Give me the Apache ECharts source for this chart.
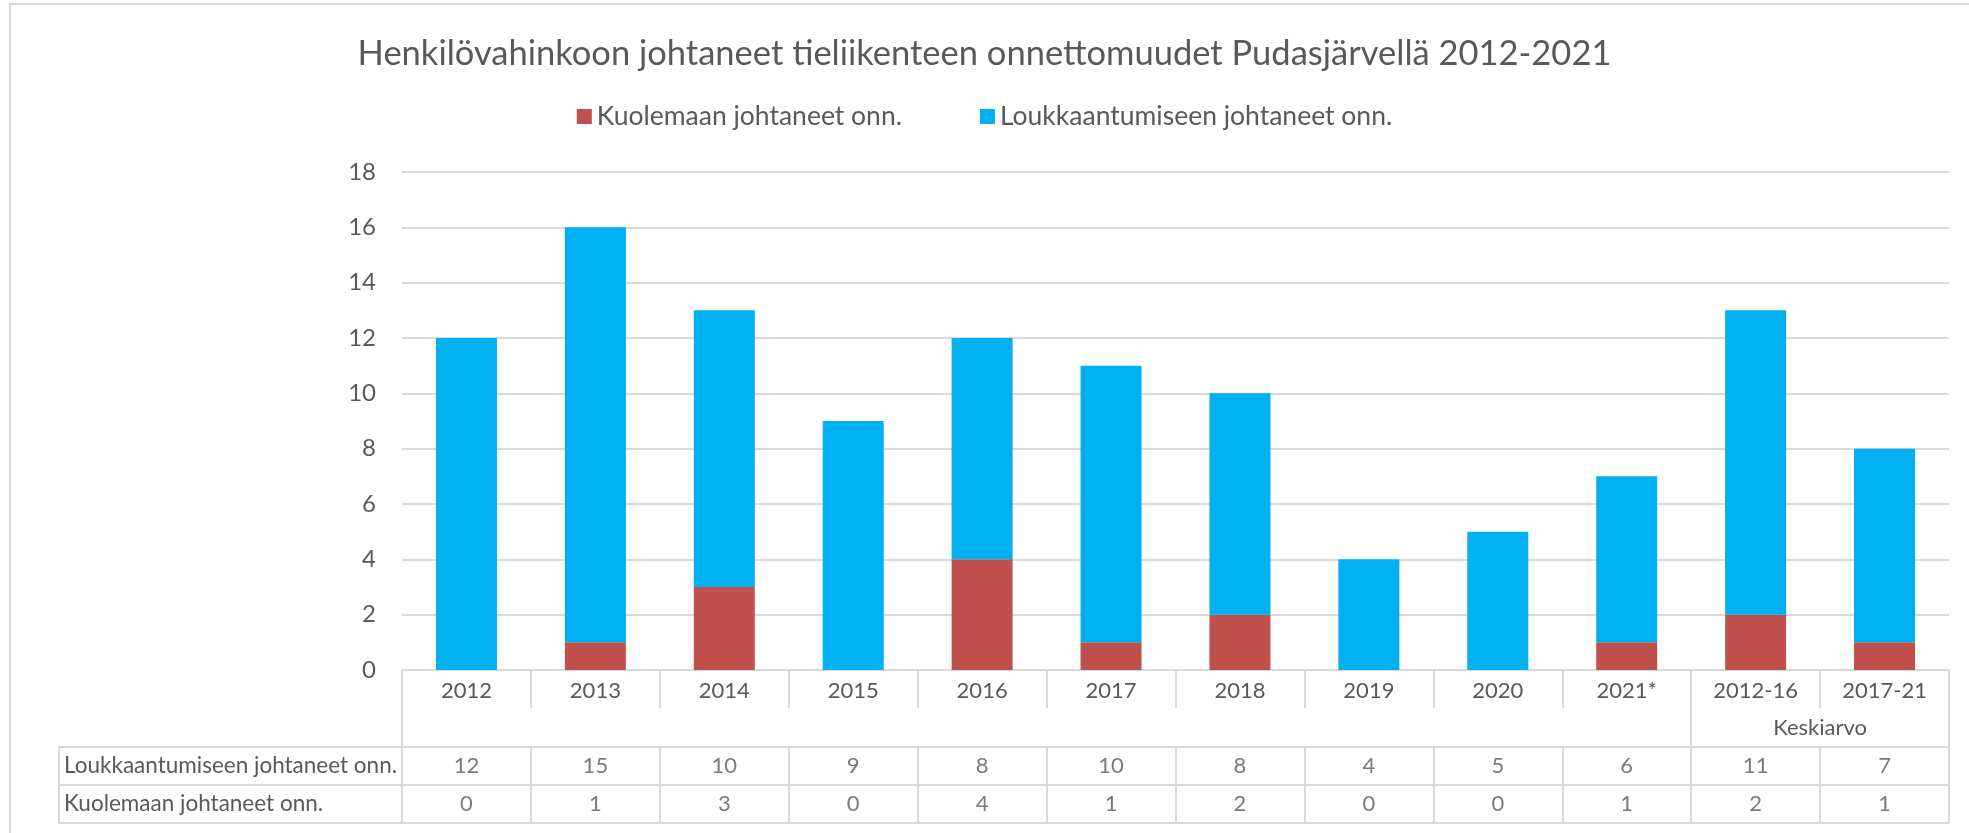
<!DOCTYPE html>
<html>
<head>
<meta charset="utf-8">
<script src="https://cdn.jsdelivr.net/npm/echarts@6/dist/echarts.min.js"></script>
<style>
html, body { margin: 0; padding: 0; background: #fff; }
#main { width: 1969px; height: 833px; }
</style>
</head>
<body>
<div id="main"></div>
<script>
// data
var categories = ['2012', '2013', '2014', '2015', '2016', '2017', '2018', '2019', '2020', '2021*', '2012-16', '2017-21'];
var kuolemaan = [0, 1, 3, 0, 4, 1, 2, 0, 0, 1, 2, 1];
var loukkaantumiseen = [12, 15, 10, 9, 8, 10, 8, 4, 5, 6, 11, 7];
var seriesNames = ['Kuolemaan johtaneet onn.', 'Loukkaantumiseen johtaneet onn.'];
var tableRows = ['Loukkaantumiseen johtaneet onn.', 'Kuolemaan johtaneet onn.'];
var groupLabel = 'Keskiarvo';

var font = 'Lato';
var textColor = '#595959';
var lineColor = '#D9D9D9';

// solut taulukkoon: [sarake, rivi, arvo]
var cells = [];
for (var i = 0; i < categories.length; i++) {
    cells.push([i, 0, loukkaantumiseen[i]]);
    cells.push([i, 1, kuolemaan[i]]);
}

var myChart = echarts.init(document.getElementById('main'));

var option = {
    animation: false,
    backgroundColor: '#fff',
    textStyle: { fontFamily: font },
    title: {
        text: 'Henkilövahinkoon johtaneet tieliikenteen onnettomuudet Pudasjärvellä 2012-2021',
        left: 'center',
        top: 31,
        textStyle: { fontFamily: font, fontSize: 34.5, fontWeight: 'normal', color: textColor }
    },
    legend: {
        data: seriesNames,
        left: 'center',
        top: 98,
        itemWidth: 15,
        itemHeight: 15,
        itemGap: 78,
        icon: 'rect',
        textStyle: { fontFamily: font, fontSize: 26.5, color: textColor }
    },
    graphic: [{
        // kehys
        type: 'rect',
        shape: { x: 10, y: 4, width: 2100, height: 1000 },
        style: { fill: null, stroke: lineColor, lineWidth: 2 },
        silent: true,
        z: -10
    }],
    grid: [
        { left: 402, right: 20, top: 172, height: 498 },
        { left: 59, top: 747, width: 343, height: 76 },
        { left: 402, right: 20, top: 747, height: 76 }
    ],
    xAxis: [{
        type: 'category',
        gridIndex: 0,
        data: categories,
        axisLine: { lineStyle: { color: lineColor, width: 2 } },
        axisTick: { show: true, interval: 0, length: 38, lineStyle: { color: lineColor, width: 2 } },
        axisLabel: { interval: 0, margin: 10, fontSize: 22, color: textColor, fontFamily: font }
    }, {
        // Keskiarvo-ryhmä
        type: 'value',
        gridIndex: 0,
        position: 'bottom',
        min: 0,
        max: 12,
        axisLine: { show: false },
        splitLine: { show: false },
        axisTick: { show: true, customValues: [0, 10, 12], length: 77, lineStyle: { color: lineColor, width: 2 } },
        axisLabel: {
            customValues: [11],
            margin: 47,
            fontSize: 22,
            color: textColor,
            fontFamily: font,
            formatter: function () { return groupLabel; }
        }
    }, {
        type: 'value',
        gridIndex: 1,
        show: false
    }, {
        type: 'category',
        gridIndex: 2,
        data: categories,
        axisLine: { show: false },
        axisTick: { show: false },
        axisLabel: { show: false },
        splitLine: { show: true, interval: 0, lineStyle: { color: lineColor, width: 2 } }
    }],
    yAxis: [{
        type: 'value',
        gridIndex: 0,
        min: 0,
        max: 18,
        interval: 2,
        axisLine: { show: false },
        axisTick: { show: false },
        splitLine: { lineStyle: { color: lineColor, width: 2 } },
        axisLabel: { margin: 26, fontSize: 24, color: textColor, fontFamily: font }
    }, {
        type: 'category',
        gridIndex: 1,
        inverse: true,
        data: tableRows,
        axisLine: { show: true, lineStyle: { color: lineColor, width: 2 } },
        axisTick: { show: false },
        axisLabel: { inside: true, margin: 5, fontSize: 22.5, color: textColor, fontFamily: font },
        splitLine: { show: true, interval: 0, lineStyle: { color: lineColor, width: 2 } }
    }, {
        type: 'category',
        gridIndex: 2,
        inverse: true,
        data: tableRows,
        axisLine: { show: false },
        axisTick: { show: false },
        axisLabel: { show: false },
        splitLine: { show: true, interval: 0, lineStyle: { color: lineColor, width: 2 } }
    }],
    series: [{
        name: seriesNames[0],
        type: 'bar',
        stack: 'onn',
        xAxisIndex: 0,
        yAxisIndex: 0,
        barWidth: 61,
        itemStyle: { color: '#C0504D' },
        data: kuolemaan
    }, {
        name: seriesNames[1],
        type: 'bar',
        stack: 'onn',
        xAxisIndex: 0,
        yAxisIndex: 0,
        barWidth: 61,
        itemStyle: { color: '#00B0F0' },
        data: loukkaantumiseen
    }, {
        name: 'taulukko',
        type: 'scatter',
        xAxisIndex: 3,
        yAxisIndex: 2,
        symbolSize: 1,
        itemStyle: { color: 'rgba(0,0,0,0)' },
        label: {
            show: true,
            position: 'inside',
            fontSize: 22,
            color: textColor,
            fontFamily: font,
            formatter: function (p) { return String(p.value[2]); }
        },
        data: cells
    }]
};

myChart.setOption(option);
</script>
</body>
</html>
